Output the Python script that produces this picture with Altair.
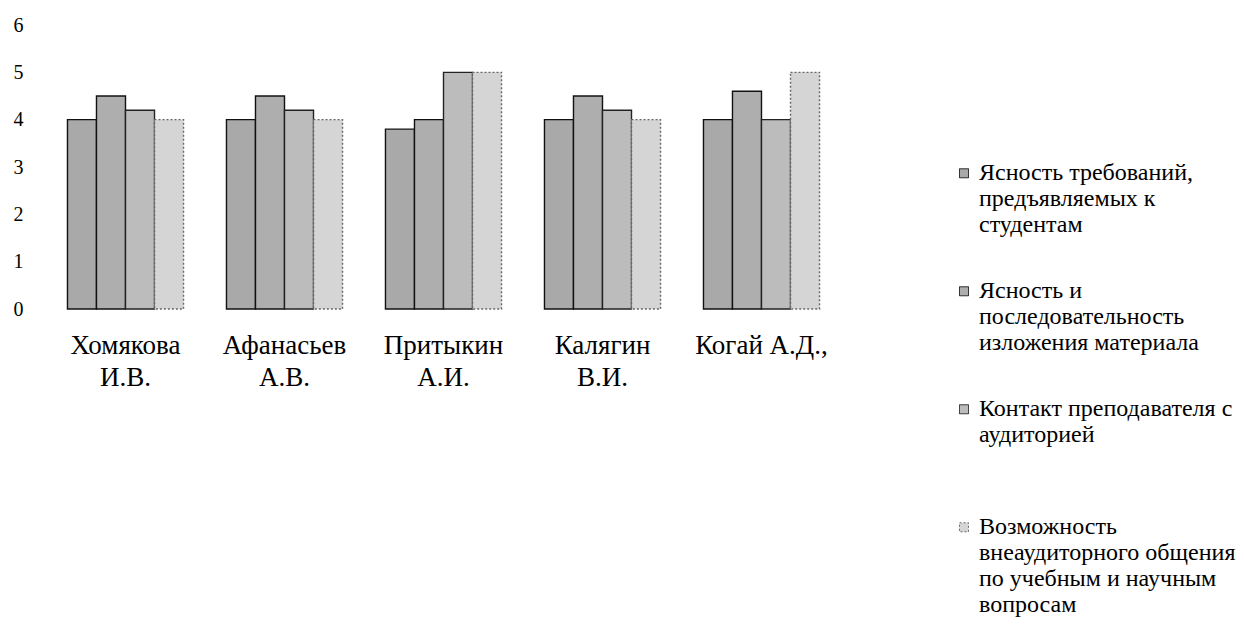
import altair as alt
import pandas as pd

teachers = ["Хомякова|И.В.", "Афанасьев|А.В.", "Притыкин|А.И.", "Калягин|В.И.", "Когай А.Д.,"]
criteria = [
    "Ясность требований,|предъявляемых к|студентам",
    "Ясность и|последовательность|изложения материала",
    "Контакт преподавателя с|аудиторией| ",
    "Возможность|внеаудиторного общения|по учебным и научным|вопросам",
]
c1 = [4.0, 4.0, 3.8, 4.0, 4.0]
c2 = [4.5, 4.5, 4.0, 4.5, 4.6]
c3 = [4.2, 4.2, 5.0, 4.2, 4.0]
c4 = [4.0, 4.0, 5.0, 4.0, 5.0]
y_ticks = [0, 1, 2, 3, 4, 5, 6]

fills = ["#a9a9a9", "#aeaeae", "#bcbcbc", "#d5d5d5"]
strokes = ["#111111", "#111111", "#222222", "#666666"]

rows = []
for crit, vals in zip(criteria, [c1, c2, c3, c4]):
    for t, v in zip(teachers, vals):
        rows.append({"teacher": t, "criterion": crit, "value": v})
df = pd.DataFrame(rows)

FONT = "Liberation Serif"
# square legend symbol drawn a little above its anchor so it sits beside the first text line
legend_symbol = "M-1,-2.5L1,-2.5L1,-0.5L-1,-0.5Z"

chart = alt.Chart(df).mark_bar(strokeWidth=1.4).encode(
    x=alt.X("teacher:N", sort=teachers, title=None,
            scale=alt.Scale(paddingInner=0.27, paddingOuter=0.135),
            axis=alt.Axis(labelExpr="split(datum.label, '|')", labelAngle=0,
                          domain=False, ticks=False, labelFont=FONT,
                          labelFontSize=27, labelColor="black",
                          labelBaseline="top", labelPadding=23,
                          labelLineHeight=32)),
    xOffset=alt.XOffset("criterion:N", sort=criteria,
                        scale=alt.Scale(paddingInner=0, paddingOuter=0)),
    y=alt.Y("value:Q", title=None,
            scale=alt.Scale(domain=[0, 6], nice=False),
            axis=alt.Axis(values=y_ticks, grid=False, domain=False, ticks=False,
                          labelFont=FONT, labelFontSize=20, labelColor="black",
                          labelPadding=23, format="d")),
    fill=alt.Fill("criterion:N", sort=criteria,
                  scale=alt.Scale(domain=criteria, range=fills),
                  legend=alt.Legend(title=None, orient="none", legendX=906, legendY=143,
                                    labelExpr="split(datum.label, '|')",
                                    labelFont=FONT, labelFontSize=24, labelColor="black",
                                    labelLimit=400, labelOffset=3,
                                    labelBaseline="alphabetic",
                                    symbolType=legend_symbol, symbolSize=81,
                                    symbolStrokeColor="black", symbolStrokeWidth=1,
                                    rowPadding=42, padding=0)),
    stroke=alt.Stroke("criterion:N", sort=criteria,
                      scale=alt.Scale(domain=criteria, range=strokes), legend=None),
    strokeDash=alt.StrokeDash("criterion:N", sort=criteria,
                              scale=alt.Scale(domain=criteria,
                                              range=[[1, 0], [1, 0], [1, 0], [2, 2]]),
                              legend=None),
).properties(
    width=795, height=284,
    autosize=alt.AutoSizeParams(type="none"),
    padding={"left": 38, "top": 17, "right": 395, "bottom": 313},
).configure_view(stroke=None)

chart.save("out.html", embed_options={"renderer": "svg", "actions": False})
